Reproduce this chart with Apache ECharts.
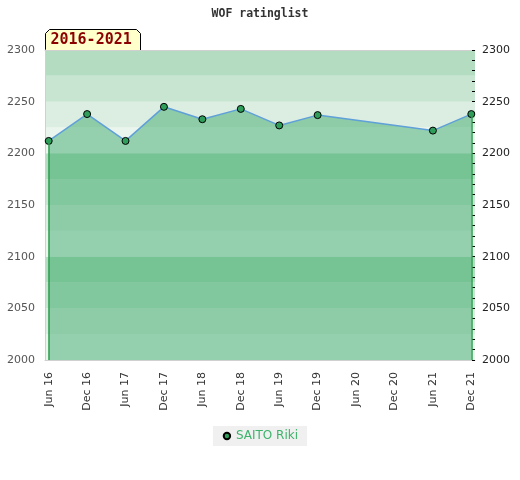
<!DOCTYPE html>
<html>
<head>
<meta charset="utf-8">
<script src="https://cdn.jsdelivr.net/npm/echarts@6/dist/echarts.min.js"></script>
<style>
  html, body { margin: 0; padding: 0; background: #fff; }
  #chart { width: 520px; height: 480px; }
</style>
</head>
<body>
<div id="chart"></div>
<script>
// periods on the x axis
const periods = ['Jun 16', 'Dec 16', 'Jun 17', 'Dec 17', 'Jun 18', 'Dec 18',
                 'Jun 19', 'Dec 19', 'Jun 20', 'Dec 20', 'Jun 21', 'Dec 21'];
// rating per period (null = no list published)
const ratings = [2212, 2238, 2212, 2245, 2233, 2243, 2227, 2237, null, null, 2222, 2238];
const yTicks = [2000, 2050, 2100, 2150, 2200, 2250, 2300];
const playerName = 'SAITO Riki';
const rangeLabel = '2016-2021';

const chart = echarts.init(document.getElementById('chart'));

const points = ratings.map((v, i) => [i, v]);
const firstIdx = 0, lastIdx = ratings.length - 1;
const plain = v => String(v);

chart.setOption({
    animation: false,
    title: {
        text: 'WOF ratinglist', left: 'center', top: 3,
        textStyle: { fontFamily: 'DejaVu Sans Mono', fontSize: 11.5, fontWeight: 'bold', color: '#333' }
    },
    grid: { left: 45, right: 45, top: 50, bottom: 120 },
    legend: {
        bottom: 34, left: 'center',
        backgroundColor: '#f0f0f0', padding: [4, 9],
        itemWidth: 8, itemHeight: 8, itemGap: 6,
        textStyle: { color: '#3cb36a', fontSize: 12, fontFamily: 'DejaVu Sans' },
        data: [playerName]
    },
    xAxis: [{
        type: 'value', min: -0.096, max: 11.096,
        axisLine: { show: true, onZero: false, lineStyle: { color: '#d0d0d0' } },
        axisTick: { show: false }, splitLine: { show: false },
        axisLabel: {
            customValues: periods.map((p, i) => i),
            formatter: v => periods[Math.round(v)],
            rotate: 90, margin: 12, color: '#333', fontSize: 11, fontFamily: 'DejaVu Sans'
        }
    }, {
        type: 'value', position: 'top', min: -0.096, max: 11.096,
        axisLine: { show: true, onZero: false, lineStyle: { color: '#d0d0d0' } },
        axisTick: { show: false }, splitLine: { show: false }, axisLabel: { show: false }
    }],
    yAxis: [{
        type: 'value', min: 2000, max: 2300, interval: 25,
        axisLine: { show: true, onZero: false, lineStyle: { color: '#d0d0d0' } },
        axisTick: { show: false }, splitLine: { show: false },
        splitArea: { show: true, areaStyle: { color: ['#eaf5ee', '#dcede2', '#c8e5d2', '#b3dcc0'] } },
        axisLabel: { customValues: yTicks, formatter: plain, margin: 10, color: '#555', fontSize: 11, fontFamily: 'DejaVu Sans' }
    }, {
        type: 'value', position: 'right', min: 2000, max: 2300, interval: 10,
        axisLine: { show: false, onZero: false },
        axisTick: { show: true, inside: true, length: 3, lineStyle: { color: '#000' } },
        splitLine: { show: false },
        axisLabel: { customValues: yTicks, formatter: plain, margin: 7, color: '#222', fontSize: 11, fontFamily: 'DejaVu Sans' }
    }],
    series: [{
        name: playerName, type: 'line', data: points, connectNulls: true,
        symbol: 'circle', symbolSize: 7,
        itemStyle: { color: '#2e9e5a', borderColor: '#000', borderWidth: 1 },
        lineStyle: { color: '#5fa0d8', width: 1.5 },
        areaStyle: { color: 'rgba(45,165,95,0.45)', opacity: 1, origin: 'start' },
        markLine: {
            silent: true, symbol: ['none', 'none'], label: { show: false },
            lineStyle: { color: '#2e9e4f', width: 1.5, type: 'solid' },
            data: [
                [{ coord: [firstIdx, 2000] }, { coord: [firstIdx, ratings[firstIdx]] }],
                [{ coord: [lastIdx, 2000] }, { coord: [lastIdx, ratings[lastIdx]] }]
            ]
        },
        z: 3
    }],
    graphic: [{
        type: 'group', left: 45, top: 29,
        children: [{
            type: 'polygon',
            shape: { points: [[0, 4], [4, 0], [91, 0], [95, 4], [95, 21], [0, 21]] },
            style: { fill: '#ffffcc', stroke: '#000', lineWidth: 1 }
        }, {
            type: 'text', x: 5, y: 3,
            style: { text: rangeLabel, fill: '#8b0000', font: 'bold 15px "DejaVu Sans Mono"' }
        }]
    }]
});
</script>
</body>
</html>
